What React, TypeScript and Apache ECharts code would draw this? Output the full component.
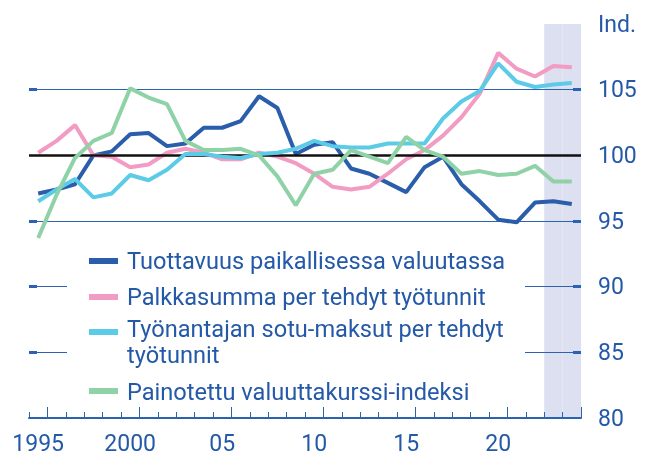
import React, { useEffect, useRef } from "react";
import * as echarts from "echarts";

const years = ["1995","1996","1997","1998","1999","2000","2001","2002","2003","2004","2005","2006","2007","2008","2009","2010","2011","2012","2013","2014","2015","2016","2017","2018","2019","2020","2021","2022","2023","2024"];

const tuottavuus = [97.1,97.4,97.8,100.0,100.3,101.6,101.7,100.7,100.9,102.1,102.1,102.6,104.5,103.6,100.1,100.8,101.0,99.0,98.6,97.9,97.2,99.1,99.9,97.8,96.5,95.1,94.9,96.4,96.5,96.3];
const palkkasumma = [100.2,101.1,102.3,100.0,99.9,99.1,99.3,100.2,100.5,100.2,99.7,99.7,100.2,99.9,99.4,98.6,97.6,97.4,97.6,98.6,99.7,100.4,101.5,102.9,104.7,107.8,106.6,106.0,106.8,106.7];
const sotumaksut = [96.5,97.4,98.2,96.8,97.1,98.5,98.1,98.9,100.1,100.1,99.9,99.8,100.1,100.2,100.5,101.1,100.7,100.6,100.6,100.9,100.9,100.9,102.8,104.1,104.9,107.0,105.6,105.2,105.4,105.5];
const valuutta = [93.7,97.0,99.8,101.1,101.7,105.1,104.4,103.9,101.1,100.4,100.4,100.5,100.0,98.4,96.2,98.6,98.9,100.4,99.9,99.4,101.4,100.4,99.9,98.6,98.8,98.5,98.6,99.2,98.0,98.0];
const shaded = [null,null,null,null,null,null,null,null,null,null,null,null,null,null,null,null,null,null,null,null,null,null,null,null,null,null,null,null,110,110];

const seriesNames = [
  "Tuottavuus paikallisessa valuutassa",
  "Palkkasumma per tehdyt työtunnit",
  "Työnantajan sotu-maksut per tehdyt\ntyötunnit",
  "Painotettu valuuttakurssi-indeksi",
];
const colors = ["#2a5daa", "#f29bc3", "#5ccbe8", "#90d2a8"];
const seriesData = [tuottavuus, palkkasumma, sotumaksut, valuutta];
const yTicks = { min: 80, max: 110, interval: 5 };
const gridTickValues = [85, 90, 95, 105];

const TEXT = "#2459a8";
const FONT = "Roboto";

export default function App() {
  const ref = useRef<HTMLDivElement>(null);
  useEffect(() => {
    const chart = echarts.init(ref.current!, null, { renderer: "svg" });
    const legendRows = [248, 284, 316, 379];
    const iconY = [261, 297, 332, 391];
    const graphics: any[] = [
      { type: "rect", shape: { x: 67, y: 236, width: 458, height: 168 }, style: { fill: "#ffffff" }, z: 50 },
    ];
    seriesNames.forEach((n, i) => {
      graphics.push({ type: "rect", shape: { x: 89, y: iconY[i] - 3, width: 29, height: 6 }, style: { fill: colors[i] }, z: 51 });
      graphics.push({
        type: "text", x: 127, y: legendRows[i], z: 51,
        style: { text: n, fill: TEXT, font: `23.6px ${FONT}`, lineHeight: 26, verticalAlign: "top", textVerticalAlign: "top" },
      });
    });
    chart.setOption({
      animation: false,
      grid: { left: 29, right: 68, top: 24, bottom: 39 },
      xAxis: [
        {
          type: "category", data: years, boundaryGap: true,
          axisLine: { lineStyle: { color: "#2d62b0", width: 2 } },
          axisTick: { show: true, inside: true, length: 6, lineStyle: { color: "#2d62b0", width: 1 }, interval: 0 },
          axisLabel: {
            interval: (i: number) => i % 5 === 0,
            formatter: (v: string) => (v === "1995" || v === "2000" ? v : v.slice(2)),
            color: TEXT, fontSize: 23, fontFamily: FONT, margin: 14, lineHeight: 22,
          },
          splitLine: { show: false },
        },
        {
          type: "category", data: years, boundaryGap: true, position: "bottom",
          axisLine: { show: false },
          axisTick: { show: true, inside: true, length: 11, lineStyle: { color: "#2d62b0", width: 1 }, interval: (i: number) => i % 5 === 1 },
          axisLabel: { show: false },
          splitLine: { show: false },
        },
      ],
      yAxis: [
        {
          type: "value", position: "right", ...yTicks,
          axisLine: { show: false },
          axisTick: { show: true, inside: true, length: 8, customValues: gridTickValues, lineStyle: { color: "#2d62b0", width: 3 } },
          axisLabel: {
            color: TEXT, fontSize: 23, fontFamily: FONT, margin: 17, align: "left",
            formatter: (v: number) => (v === 110 ? "Ind." : String(v)),
          },
          splitLine: { show: true, lineStyle: { color: "#2d62b0", width: 1 } },
        },
        {
          type: "value", position: "left", ...yTicks,
          axisLine: { show: false },
          axisTick: { show: true, inside: true, length: 8, customValues: gridTickValues, lineStyle: { color: "#2d62b0", width: 3 } },
          axisLabel: { show: false },
          splitLine: { show: false },
        },
      ],
      series: [
        {
          type: "bar", data: shaded, barCategoryGap: "0%", barGap: "0%", z: -1, silent: true,
          itemStyle: { color: "#dde0f0" }, yAxisIndex: 0,
        },
        ...seriesData.map((d, i) => ({
          type: "line", name: seriesNames[i], data: d, showSymbol: false, symbol: "none",
          lineStyle: { color: colors[i], width: 4 }, itemStyle: { color: colors[i] },
          z: 3 + i,
          markLine: i === 0 ? {
            silent: true, symbol: "none", label: { show: false },
            lineStyle: { color: "#111111", width: 2.5, type: "solid" },
            data: [{ yAxis: 100 }],
          } : undefined,
        })),
      ],
      graphic: graphics,
    });
    return () => chart.dispose();
  }, []);
  return <div ref={ref} style={{ position: "fixed", left: 0, top: 0, width: 649, height: 457 }} />;
}
